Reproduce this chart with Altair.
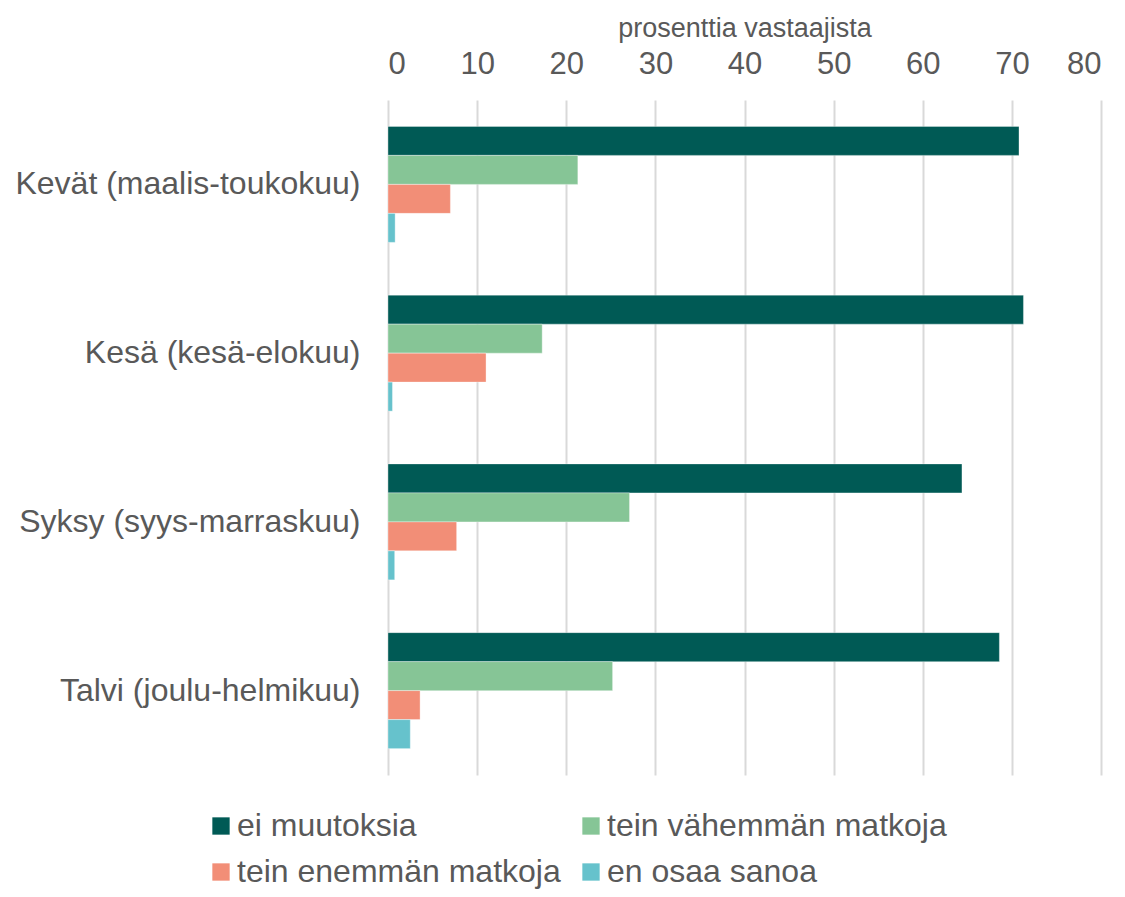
import altair as alt
import pandas as pd

seasons = ["Kevät (maalis-toukokuu)", "Kesä (kesä-elokuu)", "Syksy (syys-marraskuu)", "Talvi (joulu-helmikuu)"]
categories = ["ei muutoksia", "tein vähemmän matkoja", "tein enemmän matkoja", "en osaa sanoa"]
colors = ["#005a55", "#86c596", "#f28e77", "#66c2cc"]
# legend reading order (filled column by column in Vega)
legend_order = ["ei muutoksia", "tein enemmän matkoja", "tein vähemmän matkoja", "en osaa sanoa"]
legend_colors = ["#005a55", "#f28e77", "#86c596", "#66c2cc"]

ei_muutoksia = [70.8, 71.3, 64.4, 68.6]
tein_vahemman = [21.3, 17.3, 27.1, 25.2]
tein_enemman = [7.0, 11.0, 7.7, 3.6]
en_osaa = [0.8, 0.5, 0.75, 2.5]

series = [ei_muutoksia, tein_vahemman, tein_enemman, en_osaa]
rows = []
for cat, vals in zip(categories, series):
    for s, v in zip(seasons, vals):
        rows.append({"season": s, "category": cat, "value": v})
df = pd.DataFrame(rows)

FONT = "Liberation Sans"
TXT = "#595959"

chart = alt.Chart(df).mark_bar(stroke="white", strokeWidth=1, strokeOpacity=0.35).encode(
    x=alt.X("value:Q",
            scale=alt.Scale(domain=[0, 80], nice=False),
            axis=alt.Axis(orient="top", title="prosenttia vastaajista", values=list(range(0, 81, 10)),
                          ticks=False, tickSize=0, domain=False, grid=True, gridColor="#d9d9d9", gridWidth=2,
                          labelFontSize=31, labelColor=TXT, labelFont=FONT, labelPadding=20,
                          titleFontSize=27, titleColor=TXT, titleFont=FONT, titleFontWeight="normal",
                          titlePadding=6)),
    y=alt.Y("season:N", sort=seasons,
            scale=alt.Scale(paddingInner=0.3126, paddingOuter=0.1563),
            axis=alt.Axis(title=None, ticks=False, domain=False, labelFontSize=32, labelColor=TXT,
                          labelFont=FONT, labelPadding=28, labelLimit=0)),
    yOffset=alt.YOffset("category:N", sort=categories, scale=alt.Scale(paddingInner=0, paddingOuter=0)),
    color=alt.Color("category:N",
                    scale=alt.Scale(domain=legend_order, range=legend_colors),
                    legend=alt.Legend(title=None, orient="none", legendX=-183, legendY=710, columns=2,
                                      symbolType="square", symbolSize=300, symbolStrokeWidth=0,
                                      labelFontSize=32, labelColor=TXT, labelFont=FONT, labelOffset=0,
                                      columnPadding=14, rowPadding=14, labelLimit=0)),
).properties(
    width=713, height=675,
    autosize=alt.AutoSizeParams(type="none"),
    padding={"left": 380, "top": 92, "right": 16, "bottom": 114},
).configure_view(stroke=None)

chart.save("out.html", embed_options={"renderer": "svg", "actions": False})
